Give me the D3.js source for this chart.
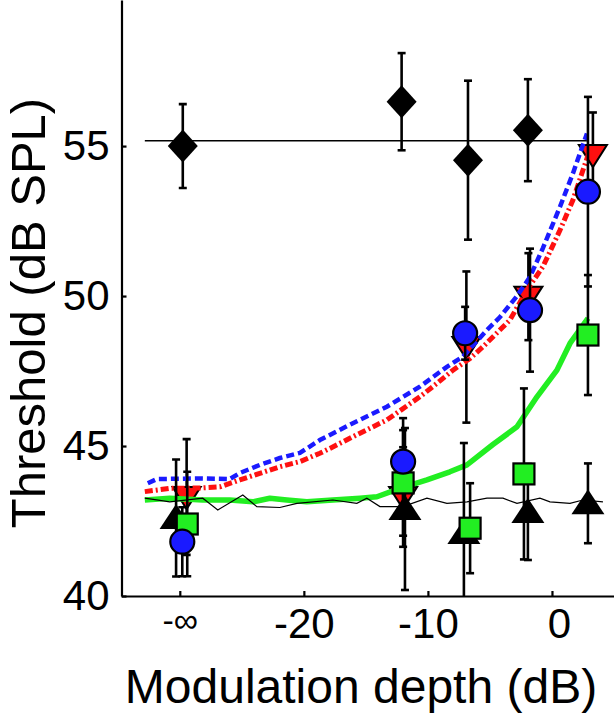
<!DOCTYPE html>
<html><head><meta charset="utf-8">
<script src="https://cdn.jsdelivr.net/npm/d3@7"></script>
<style>
html,body{margin:0;padding:0;background:#fff;}
svg{display:block;font-family:"Liberation Sans",Arial,Helvetica,sans-serif;}
</style></head>
<body><svg id="c" width="614" height="721"></svg>
<script>
// ---- data ----
const xTickValues = [-30, -20, -10, 0];
const xTickLabels = ["-\u221e", "-20", "-10", "0"];
const yTickValues = [40, 45, 50, 55];

// measured points (x in dB, -inf drawn at -30)
const diamondX = [-29.76, -12.12, -6.77, -1.94];
const diamondY = [55.0, 56.48, 54.53, 55.53];
const diamondErr = [1.4, 1.62, 2.65, 1.7];

const triangleX = [-30.3, -11.85, -7.1, -1.94, 2.9];
const triangleY = [42.6, 42.9, 42.1, 42.8, 43.09];
const triangleErr = [1.95, 2.7, 3.0, 1.6, 1.33];

const nablaX = [-29.45, -12.0, -6.9, -1.9, 3.3];
const nablaY = [43.3, 43.3, 48.3, 49.98, 54.7];
const nablaErr = [1.93, 1.66, 2.52, 1.45, 1.42];

const squareX = [-29.4, -12.0, -6.6, -2.26, 2.9];
const squareY = [42.4, 43.77, 42.26, 44.07, 48.7];
const squareErr = [1.74, 1.76, 1.5, 2.85, 2.0];

const circleX = [-29.8, -12.0, -7.0, -1.77, 2.9];
const circleY = [41.81, 44.48, 48.76, 49.53, 53.48];
const circleErr = [1.15, 1.45, 0.88, 2.05, 3.16];

// reference level for the diamonds
const flatX = [-32.82, 2.82];
const flatY = [55.18, 55.18];

// model curves
const blueX = [-32.58, -31.85, -28.39, -25.97, -25.16, -23.55, -21.94, -20.32, -18.71, -16.05, -13.31, -10.65, -8.47, -7.18, -5.24, -4.19, -2.82, -1.77, -0.73, 0.65, 1.69, 2.82];
const blueY = [43.76, 43.9, 43.92, 43.9, 44.1, 44.37, 44.6, 44.77, 45.2, 45.76, 46.31, 46.98, 47.64, 47.98, 48.87, 49.3, 50.0, 50.64, 51.6, 52.98, 54.09, 55.42];

const redX = [-32.82, -30.81, -28.39, -26.77, -25.16, -23.55, -21.94, -20.32, -18.71, -17.9, -16.05, -13.31, -10.65, -9.27, -7.98, -6.61, -5.56, -3.39, -2.02, -0.73, 0.65, 1.69, 2.5, 3.06];
const redY = [43.48, 43.59, 43.6, 43.64, 43.87, 44.09, 44.31, 44.48, 44.76, 44.92, 45.31, 45.87, 46.64, 47.09, 47.53, 47.92, 48.31, 49.2, 50.2, 50.98, 52.2, 53.2, 54.2, 54.87];

const greenX = [-32.82, -30.81, -28.15, -25.97, -24.11, -22.74, -21.37, -19.76, -17.66, -15.48, -14.11, -12.26, -10.08, -8.23, -6.85, -4.76, -2.82, -1.21, 0.4, 1.45, 2.9];
const greenY = [43.2, 43.26, 43.2, 43.2, 43.14, 43.26, 43.2, 43.14, 43.2, 43.26, 43.31, 43.59, 43.87, 44.14, 44.37, 45.05, 45.64, 46.64, 47.53, 48.42, 49.26];

const blackX = [-32.82, -30.81, -28.15, -26.94, -24.92, -23.79, -21.94, -20.56, -17.66, -15.73, -14.92, -13.87, -12.02, -10.08, -8.47, -6.85, -5.24, -3.95, -2.82, -0.97, -0.16, 1.45, 2.5, 4.11];
const blackY = [43.26, 43.14, 43.26, 42.87, 43.37, 42.98, 42.95, 43.09, 43.2, 43.09, 43.26, 42.98, 42.98, 43.26, 43.09, 43.14, 43.26, 43.26, 43.09, 43.26, 43.14, 43.09, 43.2, 43.14];

// ---- chart ----
const svg = d3.select("#c");
const x = d3.scaleLinear().domain([-34.7, 5]).range([121.5, 614]);
const y = d3.scaleLinear().domain([40, 59.87]).range([596, 0]);

const zip = (xs, ys) => xs.map((v, i) => [v, ys[i]]);
const line = d3.line().x(d => x(d[0])).y(d => y(d[1]));

svg.append("defs").append("clipPath").attr("id", "plot")
  .append("rect").attr("x", 121.5).attr("y", 0).attr("width", 614 - 121.5).attr("height", 596);

const g = svg.append("g").attr("clip-path", "url(#plot)");

// error bars
function errBars(xs, ys, es) {
  const d = xs.map((v, i) => ({x: v, y: ys[i], e: es[i]}));
  const eg = g.append("g").attr("stroke", "#000").attr("stroke-width", 2.6).attr("fill", "none");
  eg.selectAll("line.v").data(d).join("line").attr("class", "v")
    .attr("x1", d => x(d.x)).attr("x2", d => x(d.x))
    .attr("y1", d => y(d.y + d.e)).attr("y2", d => y(d.y - d.e));
  eg.selectAll("line.t").data(d).join("line").attr("class", "t")
    .attr("x1", d => x(d.x) - 4).attr("x2", d => x(d.x) + 4)
    .attr("y1", d => y(d.y + d.e)).attr("y2", d => y(d.y + d.e));
  eg.selectAll("line.b").data(d).join("line").attr("class", "b")
    .attr("x1", d => x(d.x) - 4).attr("x2", d => x(d.x) + 4)
    .attr("y1", d => y(d.y - d.e)).attr("y2", d => y(d.y - d.e));
}
errBars(nablaX, nablaY, nablaErr);

// nablas (beneath the model curves)
g.selectAll("path.nab").data(zip(nablaX, nablaY)).join("path").attr("class", "nab")
  .attr("d", "M-14,-10L14,-10L0,12Z")
  .attr("transform", d => `translate(${x(d[0])},${y(d[1])})`)
  .attr("fill", "#ff1010").attr("stroke", "#000").attr("stroke-width", 2);

// lines
g.append("path").datum(zip(flatX, flatY)).attr("d", line)
  .attr("fill", "none").attr("stroke", "#000").attr("stroke-width", 1.6);
g.append("path").datum(zip(greenX, greenY)).attr("d", line)
  .attr("fill", "none").attr("stroke", "#22ee22").attr("stroke-width", 5.5).attr("stroke-linejoin", "round");
g.append("path").datum(zip(blackX, blackY)).attr("d", line)
  .attr("fill", "none").attr("stroke", "#000").attr("stroke-width", 1.2);
g.append("path").datum(zip(redX, redY)).attr("d", line)
  .attr("fill", "none").attr("stroke", "#ff1010").attr("stroke-width", 5)
  .attr("stroke-dasharray", "8,3,2,3");
g.append("path").datum(zip(blueX, blueY)).attr("d", line)
  .attr("fill", "none").attr("stroke", "#1a1aff").attr("stroke-width", 4.5)
  .attr("stroke-dasharray", "8,4");

errBars(diamondX, diamondY, diamondErr);
errBars(triangleX, triangleY, triangleErr);
errBars(squareX, squareY, squareErr);
errBars(circleX, circleY, circleErr);

// markers
g.selectAll("path.tri").data(zip(triangleX, triangleY)).join("path").attr("class", "tri")
  .attr("d", "M0,-14L16.5,11L-16.5,11Z")
  .attr("transform", d => `translate(${x(d[0])},${y(d[1])})`)
  .attr("fill", "#000");
g.selectAll("rect.sq").data(zip(squareX, squareY)).join("rect").attr("class", "sq")
  .attr("x", d => x(d[0]) - 10.5).attr("y", d => y(d[1]) - 10.5)
  .attr("width", 21).attr("height", 21)
  .attr("fill", "#22ee22").attr("stroke", "#000").attr("stroke-width", 2.2);
g.selectAll("circle.ci").data(zip(circleX, circleY)).join("circle").attr("class", "ci")
  .attr("cx", d => x(d[0])).attr("cy", d => y(d[1])).attr("r", 12)
  .attr("fill", "#1a1aff").attr("stroke", "#000").attr("stroke-width", 2.2);
g.selectAll("path.dia").data(zip(diamondX, diamondY)).join("path").attr("class", "dia")
  .attr("d", "M0,-16.5L15,0L0,16.5L-15,0Z")
  .attr("transform", d => `translate(${x(d[0])},${y(d[1])})`)
  .attr("fill", "#000");

// axes
const xAxis = d3.axisBottom(x).tickValues(xTickValues)
  .tickFormat((d, i) => xTickLabels[i]).tickSizeInner(-5).tickSizeOuter(0).tickPadding(12);
const yAxis = d3.axisLeft(y).tickValues(yTickValues)
  .tickSizeInner(-5).tickSizeOuter(0).tickPadding(12);

const gx = svg.append("g").attr("transform", "translate(0,596)").call(xAxis);
const gy = svg.append("g").attr("transform", "translate(121.5,0)").call(yAxis);
[gx, gy].forEach(a => {
  a.select(".domain").attr("stroke", "#000").attr("stroke-width", 2.2);
  a.selectAll(".tick line").attr("stroke", "#000").attr("stroke-width", 2.2);
  a.selectAll(".tick text").attr("fill", "#000").attr("font-size", 42)
    .attr("font-family", "Liberation Sans, Arial, sans-serif");
});
gx.selectAll(".tick text").filter((d, i) => i === 0).attr("font-size", 34).attr("font-weight", 300);
gx.selectAll(".tick text").filter((d, i) => i === 3).attr("dx", 7);

svg.append("text").attr("x", 361).attr("y", 703).attr("text-anchor", "middle")
  .attr("font-size", 48).text("Modulation depth (dB)");
svg.append("text").attr("transform", "translate(45,313) rotate(-90)")
  .attr("text-anchor", "middle").attr("font-size", 49).text("Threshold (dB SPL)");
</script></body></html>
